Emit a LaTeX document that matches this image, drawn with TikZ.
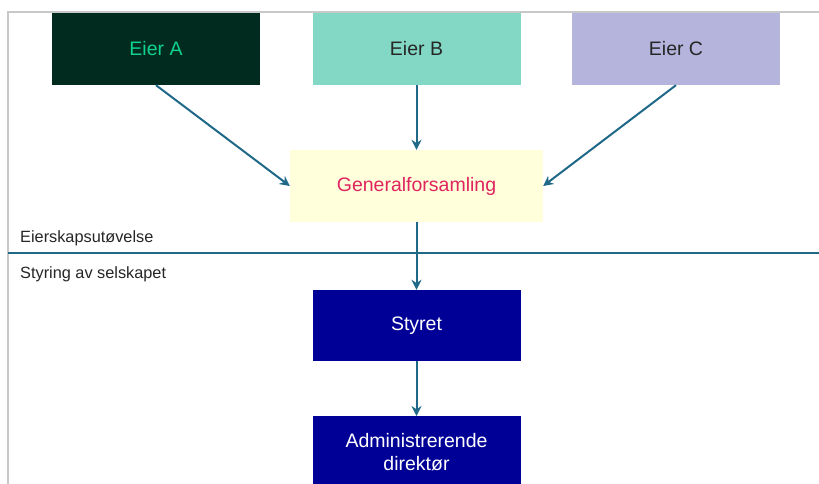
\documentclass[tikz,border=0pt]{standalone}
\usepackage{fontspec}
\setmainfont{Liberation Sans}
\usetikzlibrary{arrows.meta}
\definecolor{eierA}{HTML}{012B1E}
\definecolor{eierAtxt}{HTML}{0FD38E}
\definecolor{eierB}{HTML}{82D8C4}
\definecolor{eierC}{HTML}{B4B4DC}
\definecolor{gf}{HTML}{FFFFDC}
\definecolor{gftxt}{HTML}{E0245E}
\definecolor{navy}{HTML}{000096}
\definecolor{arr}{HTML}{1F6888}
\definecolor{frame}{HTML}{C8C8C8}
\tikzset{
  box/.style={draw=none, minimum width=208pt, minimum height=72pt, inner sep=2pt, align=center, font=\fontsize{19.5}{23}\selectfont},
  conn/.style={draw=arr, line width=2pt, -{Stealth[length=10pt,width=10pt]}},
  lbl/.style={anchor=west, inner sep=0pt, font=\fontsize{16.3}{19}\selectfont, text=black!85}
}
\begin{document}
\begin{tikzpicture}[x=1pt,y=-1pt]
\useasboundingbox[fill=white] (0,0) rectangle (819,484);
\draw[frame, line width=1.5pt] (8,484) -- (8,12) -- (819,12);
\node[box, fill=eierA, text=eierAtxt] (A) at (156,49) {Eier A};
\node[box, fill=eierB, text=black!85] (B) at (416.5,49) {Eier B};
\node[box, fill=eierC, text=black!85] (C) at (676,49) {Eier C};
\node[box, fill=gf, text=gftxt, minimum width=253pt] (G) at (416.5,186) {Generalforsamling};
\node[box, fill=navy, text=white, minimum height=71pt] (S) at (416.5,325.5) {Styret};
\node[box, fill=navy, text=white, minimum height=72pt, anchor=north] (D) at (416.5,416) {Administrerende\\direktør};
\coordinate (dl) at (8,253);
\coordinate (dr) at (819,253);
\draw[arr, line width=2.5pt] (dl) -- (dr);
\node[lbl] (l1) at (20,238) {Eierskapsutøvelse};
\node[lbl] (l2) at (20,274) {Styring av selskapet};
\draw[conn] (A.south) -- (G.west);
\draw[conn] (B.south) -- (G.north);
\draw[conn] (C.south) -- (G.east);
\draw[conn] (G.south) -- (S.north);
\draw[conn] (S.south) -- (D.north);
\end{tikzpicture}
\end{document}
